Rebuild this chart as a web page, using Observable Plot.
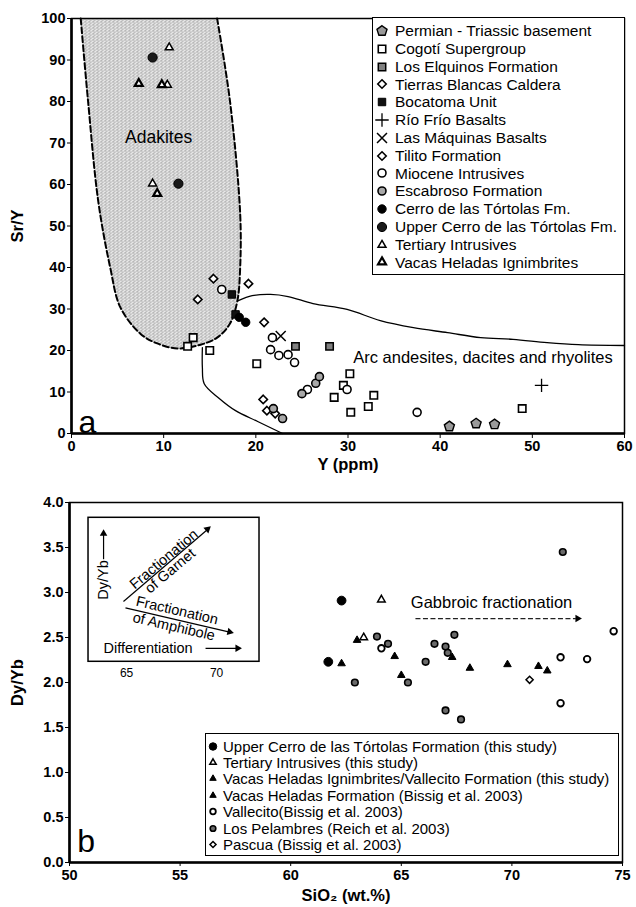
<!DOCTYPE html>
<html><head><meta charset="utf-8">
<script src="https://cdn.jsdelivr.net/npm/d3@7"></script>
<script src="https://cdn.jsdelivr.net/npm/@observablehq/plot@0.6"></script>
<style>
html,body{margin:0;padding:0;background:#fff;}
#wrap{position:relative;width:636px;height:907px;overflow:hidden;font-family:"Liberation Sans",Arial,sans-serif;color:#000;}
#wrap > svg{position:absolute;left:0;overflow:visible;}
g[aria-label$="tick label"], g[aria-label$="tick label"] text{font-size:14.5px;font-weight:bold;}
g[aria-label$="axis label"], g[aria-label$="axis label"] text{font-size:16.5px;font-weight:bold;}
.lg{position:absolute;background:#fff;border:1.5px solid #000;box-sizing:border-box;}
.lg .row{position:absolute;display:flex;align-items:center;white-space:nowrap;line-height:1;}
.lg svg{display:block;overflow:visible;}
</style></head>
<body><div id="wrap"></div>
<script>
// ---------------- Panel a data: [Y (ppm), Sr/Y] ----------------
const permianA   = [[41.0,1.7],[43.9,2.4],[45.9,2.2]];
const cogotiA    = [[13.2,23.1],[12.6,21.0],[15.0,20.0],[20.1,16.8],[30.2,14.4],[29.5,11.6],[28.5,8.7],[30.3,5.1],[32.8,9.2],[32.2,6.5],[48.9,6.0]];
const elquinosA  = [[24.3,21.0],[28.0,21.0]];
const tierrasA   = [[20.8,8.2],[21.2,5.5],[22.1,4.8]];
const bocatomaA  = [[17.4,33.5],[17.8,28.7]];
const rioFrioA   = [[51.0,11.6]];
const maquinasA  = [[22.7,23.5]];
const tilitoA    = [[15.4,37.3],[19.2,36.1],[13.7,32.3],[20.9,26.8]];
const mioceneA   = [[16.3,34.7],[21.8,23.1],[21.6,20.2],[22.5,18.8],[23.5,19.0],[24.2,17.1],[25.6,10.6],[29.9,10.6],[37.5,5.1]];
const escabrosoA = [[21.9,6.0],[22.9,3.6],[25.0,9.6],[26.5,12.1],[26.9,13.7]];
const cerroA     = [[18.2,28.0],[18.9,26.8]];
const upperCerroA= [[8.8,90.6],[11.6,60.2]];
const tertiaryA  = [[10.6,93.0],[10.4,84.0],[8.8,60.2]];
const vacasA     = [[7.3,84.3],[9.8,84.0],[9.3,57.8]];
const labelsA = ["Permian - Triassic basement","Cogotí Supergroup","Los Elquinos Formation","Tierras Blancas Caldera","Bocatoma Unit","Río Frío Basalts","Las Máquinas Basalts","Tilito Formation","Miocene Intrusives","Escabroso Formation","Cerro de las Tórtolas Fm.","Upper Cerro de las Tórtolas Fm.","Tertiary Intrusives","Vacas Heladas Ignimbrites"];
const ticksAX = [0,10,20,30,40,50,60];
const ticksAY = [0,10,20,30,40,50,60,70,80,90,100];
// field boundaries (Y, Sr/Y)
const adakiteField = [[1.0,100],[1.8,80],[2.9,56],[4.2,40],[5.3,30.4],[7.5,24],[9.3,21.7],[11.5,20.5],[14.0,21.4],[15.8,23.1],[17.2,26.5],[18.0,32],[18.3,40],[18.3,53],[17.2,80],[15.8,100]];
const arcUpper = [[18.1,32.0],[19.6,33.2],[21.6,33.5],[23.5,33.0],[26.2,31.3],[29.9,29.9],[33.5,27.2],[37.1,25.5],[40.8,24.3],[44.4,23.1],[47.9,22.7],[51.6,21.9],[55,21.4],[60,21.2]];
const arcLower = [[14.2,20.7],[14.2,15.9],[14.4,12.0],[16.0,8.5],[17.8,5.5],[20.2,2.9],[22.9,0]];
const fieldLabelsA = [{x:9.45,y:71.3,text:"Adakites",size:17.5},{x:44.65,y:18.3,text:"Arc andesites, dacites and rhyolites",size:16.5}];
const panelLabelA = [{x:0.75,y:2.7,text:"a"}];

// ---------------- Panel b data: [SiO2, Dy/Yb] ----------------
const upperCerroB = [[62.3,2.91],[61.7,2.23]];
const tertiaryB   = [[64.1,2.92],[63.3,2.50]];
const vacasIgnB   = [[63.0,2.47],[64.7,2.29],[62.3,2.21]];
const vacasFmB    = [[65.0,2.08],[67.3,2.28],[68.1,2.16],[69.8,2.20],[71.2,2.18],[71.6,2.13]];
const vallecitoB  = [[64.1,2.38],[72.2,2.28],[73.4,2.26],[72.2,1.77],[74.6,2.57]];
const pelambresB  = [[72.3,3.45],[63.9,2.51],[64.4,2.43],[66.5,2.43],[67.4,2.53],[67.0,2.40],[67.1,2.33],[66.1,2.23],[62.9,2.00],[65.3,2.00],[67.0,1.69],[67.7,1.59]];
const pascuaB     = [[70.8,2.03]];
const labelsB = ["Upper Cerro de las Tórtolas Formation (this study)","Tertiary Intrusives (this study)","Vacas Heladas Ignimbrites/Vallecito Formation (this study)","Vacas Heladas Formation (Bissig et al. 2003)","Vallecito(Bissig et al. 2003)","Los Pelambres (Reich et al. 2003)","Pascua (Bissig et al. 2003)"];
const ticksBX = [50,55,60,65,70,75];
const ticksBY = [0,0.5,1,1.5,2,2.5,3,3.5,4];
// annotations (SiO2, Dy/Yb)
const insetBox = [{x1:50.86,x2:58.59,y1:2.23,y2:3.83}];
const insetTexts = [
  {x:51.54,y:3.14,text:"Dy/Yb",rotate:-90},
  {x:54.27,y:3.37,text:"Fractionation",rotate:-40},
  {x:54.55,y:3.24,text:"of Garnet",rotate:-40},
  {x:54.86,y:2.80,text:"Fractionation",rotate:13},
  {x:54.72,y:2.62,text:"of Amphibole",rotate:13},
  {x:53.55,y:2.38,text:"Differentiation",rotate:0}
];
const insetTicks = [{x:52.58,y:2.10,text:"65"},{x:56.65,y:2.10,text:"70"}];
const insetArrows = [
  {x1:51.54,y1:3.37,x2:51.54,y2:3.65},
  {x1:52.44,y1:2.90,x2:56.24,y2:3.70},
  {x1:52.53,y1:2.83,x2:57.24,y2:2.56},
  {x1:56.15,y1:2.38,x2:57.6,y2:2.38}
];
const arrowHeads = [
  {x:51.54,y:3.655,rotate:0},{x:56.24,y:3.704,rotate:49},{x:57.24,y:2.562,rotate:103},{x:57.6,y:2.38,rotate:90},{x:72.97,y:2.71,rotate:90}
];
const gabbroArrow = [{x1:65.64,y1:2.71,x2:72.9,y2:2.71}];
const gabbroText = [{x:69.08,y:2.89,text:"Gabbroic fractionation"}];
const panelLabelB = [{x:50.35,y:0.23,text:"b"}];

// ---------------- symbols & styles ----------------
const pentagon = {draw(ctx, size){const R=Math.sqrt(size/2.3776);for(let k=0;k<5;k++){const a=-Math.PI/2+k*2*Math.PI/5;const px=R*Math.cos(a),py=R*Math.sin(a);k?ctx.lineTo(px,py):ctx.moveTo(px,py);}ctx.closePath();}};
const seriesA = [permianA,cogotiA,elquinosA,tierrasA,bocatomaA,rioFrioA,maquinasA,tilitoA,mioceneA,escabrosoA,cerroA,upperCerroA,tertiaryA,vacasA];
const stylesA = [
  {symbol:pentagon,r:4.6,fill:"#9a9a9a",stroke:"#000",sw:1.4},
  {symbol:d3.symbolSquare,r:4.2,fill:"#fff",stroke:"#000",sw:1.6},
  {symbol:d3.symbolSquare,r:4.2,fill:"#808080",stroke:"#000",sw:1.5},
  {symbol:d3.symbolDiamond2,r:3.8,fill:"#fff",stroke:"#000",sw:1.6},
  {symbol:d3.symbolSquare,r:4.2,fill:"#111",stroke:"#000",sw:1},
  {symbol:d3.symbolPlus,r:4.4,fill:"none",stroke:"#000",sw:1.3},
  {symbol:d3.symbolTimes,r:4.6,fill:"none",stroke:"#000",sw:1.5},
  {symbol:d3.symbolDiamond2,r:3.8,fill:"#fff",stroke:"#000",sw:1.6},
  {symbol:d3.symbolCircle,r:4.0,fill:"#fff",stroke:"#000",sw:1.6},
  {symbol:d3.symbolCircle,r:4.0,fill:"#a8a8a8",stroke:"#000",sw:1.6},
  {symbol:d3.symbolCircle,r:4.2,fill:"#000",stroke:"#000",sw:1},
  {symbol:d3.symbolCircle,r:4.6,fill:"#1a1a1a",stroke:"#000",sw:1},
  {symbol:d3.symbolTriangle2,r:3.8,fill:"#fff",stroke:"#000",sw:1.5},
  {symbol:d3.symbolTriangle2,r:3.8,fill:"#fff",stroke:"#000",sw:2.2}
];
const seriesB = [upperCerroB,tertiaryB,vacasIgnB,vacasFmB,vallecitoB,pelambresB,pascuaB];
const stylesB = [
  {symbol:d3.symbolCircle,r:4.4,fill:"#000",stroke:"#000",sw:1},
  {symbol:d3.symbolTriangle2,r:3.6,fill:"#fff",stroke:"#000",sw:1.5},
  {symbol:d3.symbolTriangle2,r:3.6,fill:"#000",stroke:"#000",sw:1},
  {symbol:d3.symbolTriangle2,r:3.6,fill:"#000",stroke:"#000",sw:1},
  {symbol:d3.symbolCircle,r:3.3,fill:"#fff",stroke:"#000",sw:1.8},
  {symbol:d3.symbolCircle,r:3.3,fill:"#6a6a6a",stroke:"#000",sw:1.6},
  {symbol:d3.symbolDiamond2,r:3.2,fill:"#fff",stroke:"#000",sw:1.5}
];
const dotMarks = (series, styles) => series.map((pts,i)=>Plot.dot(pts,{x:d=>d[0],y:d=>d[1],symbol:styles[i].symbol,r:styles[i].r,fill:styles[i].fill,stroke:styles[i].stroke,strokeWidth:styles[i].sw}));

const FONT = "Liberation Sans, Arial, sans-serif";
const wrap = document.getElementById("wrap");

// stipple pattern for the adakite field
const stipple = () => {
  const ns = "http://www.w3.org/2000/svg";
  const defs = document.createElementNS(ns,"defs");
  defs.innerHTML = `<pattern id="stip" width="4" height="3" patternUnits="userSpaceOnUse">
    <rect width="4" height="3" fill="#e8e8e8"/>
    <rect x="0" y="0" width="1" height="1" fill="#6a6a6a"/>
    <rect x="2" y="1" width="1" height="1" fill="#8a8a8a"/>
    <rect x="1" y="2" width="1" height="1" fill="#a0a0a0"/>
  </pattern>`;
  return defs;
};

const axisFont = {fontSize:14.5, fontWeight:"bold"};

// ---------------- Panel a ----------------
const plotA = Plot.plot({
  width:636, height:470, marginLeft:71, marginRight:12, marginTop:18, marginBottom:37,
  style:{fontFamily:FONT, background:"transparent", color:"#000", overflow:"visible"},
  x:{domain:[0,60]}, y:{domain:[0,100]},
  marks:[
    stipple,
    Plot.line(adakiteField,{x:d=>d[0],y:d=>d[1],curve:"catmull-rom",fill:"url(#stip)",stroke:"#000",strokeWidth:2,strokeDasharray:"6,3"}),
    Plot.line(arcUpper,{x:d=>d[0],y:d=>d[1],curve:"catmull-rom",stroke:"#000",strokeWidth:1.3}),
    Plot.line(arcLower,{x:d=>d[0],y:d=>d[1],curve:"catmull-rom",stroke:"#000",strokeWidth:1.3}),
    Plot.frame({stroke:"#000",strokeWidth:1.5}),
    Plot.ruleX([0],{stroke:"#000",strokeWidth:2.6}),
    Plot.ruleY([0],{stroke:"#000",strokeWidth:2.6}),
    Plot.axisX(ticksAX,{...axisFont,tickSize:5,tickPadding:2,label:"Y (ppm)",labelAnchor:"center",labelOffset:36,labelArrow:"none"}),
    Plot.axisY(ticksAY,{...axisFont,tickSize:4,tickPadding:2,label:"Sr/Y",labelAnchor:"center",labelOffset:60,labelArrow:"none"}),
    Plot.text(fieldLabelsA,{x:"x",y:"y",text:"text",fontSize:d=>d.size,fill:"#000"}),
    Plot.text(panelLabelA,{x:"x",y:"y",text:"text",fontSize:32,textAnchor:"start",fill:"#000"}),
    ...dotMarks(seriesA,stylesA)
  ]
});
plotA.style.top = "0px";
wrap.appendChild(plotA);

// ---------------- Panel b ----------------
const plotB = Plot.plot({
  width:636, height:437, marginLeft:69, marginRight:14, marginTop:32, marginBottom:45,
  style:{fontFamily:FONT, background:"transparent", color:"#000", overflow:"visible"},
  x:{domain:[50,75]}, y:{domain:[0,4]},
  marks:[
    Plot.frame({stroke:"#000",strokeWidth:1.5}),
    Plot.ruleX([50],{stroke:"#000",strokeWidth:2.6}),
    Plot.ruleY([0],{stroke:"#000",strokeWidth:2.6}),
    Plot.axisX(ticksBX,{...axisFont,tickSize:4,tickPadding:3,label:"SiO₂ (wt.%)",labelAnchor:"center",labelOffset:38,labelArrow:"none"}),
    Plot.axisY(ticksBY,{...axisFont,tickSize:4,tickPadding:2,tickFormat:d3.format(".1f"),label:"Dy/Yb",labelAnchor:"center",labelOffset:58,labelArrow:"none"}),
    Plot.rect(insetBox,{x1:"x1",x2:"x2",y1:"y1",y2:"y2",fill:"#fff",stroke:"#000",strokeWidth:1.5}),
    Plot.link(insetArrows,{x1:"x1",y1:"y1",x2:"x2",y2:"y2",stroke:"#000",strokeWidth:1.2}),
    Plot.dot(arrowHeads,{x:"x",y:"y",rotate:"rotate",symbol:"triangle2",r:3.6,fill:"#000",stroke:"none"}),
    Plot.text(insetTexts,{x:"x",y:"y",text:"text",rotate:"rotate",fontSize:14.5,fill:"#000"}),
    Plot.text(insetTicks,{x:"x",y:"y",text:"text",fontSize:12,fill:"#000"}),
    Plot.link(gabbroArrow,{x1:"x1",y1:"y1",x2:"x2",y2:"y2",stroke:"#222",strokeWidth:1.4,strokeDasharray:"5,2.5"}),
    Plot.text(gabbroText,{x:"x",y:"y",text:"text",fontSize:16.5,fill:"#000"}),
    Plot.text(panelLabelB,{x:"x",y:"y",text:"text",fontSize:32,textAnchor:"start",fill:"#000"}),
    ...dotMarks(seriesB,stylesB)
  ]
});
plotB.style.top = "470px";
wrap.appendChild(plotB);

// ---------------- HTML legends ----------------
function legend(labels, styles, box, o){
  const div = document.createElement("div");
  div.className = "lg";
  Object.assign(div.style,{left:box.left+"px",top:box.top+"px",width:box.width+"px",height:box.height+"px"});
  labels.forEach((lab,i)=>{
    const st = styles[i];
    const row = document.createElement("div");
    row.className = "row";
    row.style.left = o.padLeft+"px";
    row.style.top = (o.first + i*o.step - o.rowH/2)+"px";
    row.style.height = o.rowH+"px";
    row.style.fontSize = o.fontSize+"px";
    const s = d3.create("svg").attr("width",o.sw).attr("height",o.rowH);
    s.append("path").attr("transform",`translate(${o.sw/2},${o.rowH/2})`)
      .attr("d",d3.symbol(st.symbol,Math.PI*Math.pow(st.r*o.scale,2))())
      .attr("fill",st.fill).attr("stroke",st.stroke).attr("stroke-width",st.sw);
    row.appendChild(s.node());
    const t = document.createElement("span");
    t.textContent = lab; t.style.marginLeft = o.gap+"px";
    row.appendChild(t);
    div.appendChild(row);
  });
  wrap.appendChild(div);
}
legend(labelsA, stylesA, {left:372,top:17,width:253,height:258}, {padLeft:1,first:13,step:17.8,rowH:16,sw:16,gap:5,fontSize:15.5,scale:1});
legend(labelsB, stylesB, {left:205,top:733,width:414,height:123}, {padLeft:1,first:12,step:16.4,rowH:15,sw:12,gap:4,fontSize:15,scale:0.85});
</script></body></html>
